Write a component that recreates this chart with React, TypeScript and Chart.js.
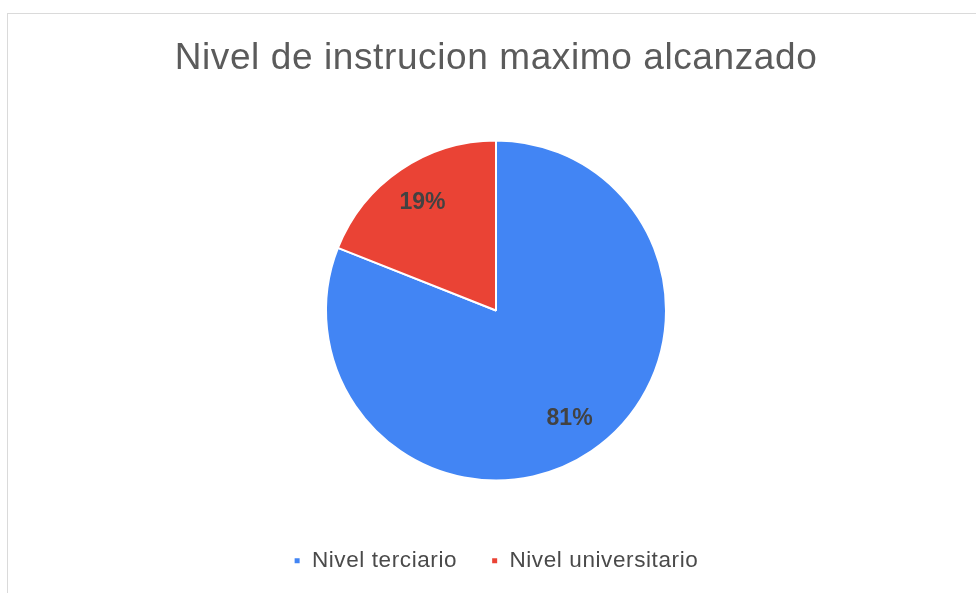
import React, { useEffect, useRef } from "react";
import { Chart, registerables } from "chart.js";

Chart.register(...registerables);

const TITLE = "Nivel de instrucion maximo alcanzado";
const categories = ["Nivel terciario", "Nivel universitario"];
const values = [81, 19];
const colors = ["#4285F4", "#EA4335"];

const FONT = "'Liberation Sans', Arial, sans-serif";

const spacing = {
  id: "spacing",
  beforeUpdate(chart: any) {
    chart.ctx.letterSpacing = "0.6px";
  },
  beforeDraw(chart: any) {
    chart.ctx.letterSpacing = "0.6px";
  },
  beforeDatasetsDraw(chart: any) {
    chart.ctx.letterSpacing = "0px";
  },
};

const pctLabels = {
  id: "pctLabels",
  afterDatasetsDraw(chart: any) {
    const ctx = chart.ctx;
    const meta = chart.getDatasetMeta(0);
    const data = chart.data.datasets[0].data as number[];
    const total = data.reduce((a, b) => a + b, 0);
    ctx.save();
    ctx.letterSpacing = "0px";
    ctx.font = `bold 23px ${FONT}`;
    ctx.fillStyle = "#424242";
    ctx.textAlign = "center";
    ctx.textBaseline = "middle";
    meta.data.forEach((arc: any, i: number) => {
      const { x, y, startAngle, endAngle, outerRadius } = arc.getProps(
        ["x", "y", "startAngle", "endAngle", "outerRadius"],
        true
      );
      const mid = (startAngle + endAngle) / 2;
      const r = outerRadius * 0.77;
      const pct = Math.round((data[i] / total) * 100) + "%";
      ctx.fillText(pct, x + Math.cos(mid) * r, y + Math.sin(mid) * r);
    });
    ctx.restore();
  },
};

export default function App() {
  const ref = useRef<HTMLCanvasElement>(null);
  useEffect(() => {
    if (!ref.current) return;
    const chart = new Chart(ref.current, {
      type: "pie",
      data: {
        labels: categories,
        datasets: [
          {
            data: values,
            backgroundColor: colors,
            borderColor: "#ffffff",
            borderWidth: 2,
            radius: 170,
          },
        ],
      },
      plugins: [spacing, pctLabels],
      options: {
        animation: false,
        responsive: false,
        maintainAspectRatio: false,
        layout: { padding: { left: 8, right: 0, top: 0, bottom: 11 } },
        plugins: {
          title: {
            display: true,
            text: TITLE,
            color: "#5b5b5b",
            font: { family: FONT, size: 37, weight: "normal" },
            padding: { top: 23, bottom: 24 },
          },
          legend: {
            position: "bottom",
            labels: {
              color: "#4a4a4a",
              font: { family: FONT, size: 22.5 },
              boxWidth: 7,
              boxHeight: 7,
              padding: 34,
            },
          },
          tooltip: { enabled: false },
        },
      },
    });
    return () => chart.destroy();
  }, []);
  return (
    <div
      style={{
        position: "absolute",
        left: 7,
        top: 13,
        width: 969,
        height: 580,
        borderTop: "1px solid #dadada",
        borderLeft: "1px solid #dadada",
        boxSizing: "border-box",
        background: "#fff",
      }}
    >
      <canvas ref={ref} width={968} height={579} style={{ display: "block" }} />
    </div>
  );
}
